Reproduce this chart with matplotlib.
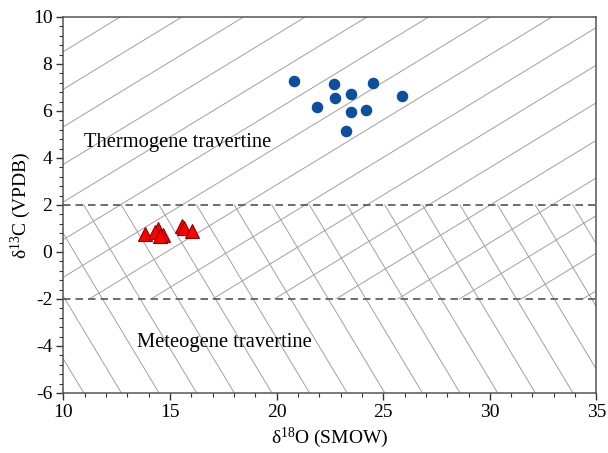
import numpy as np
import matplotlib
matplotlib.use("Agg")
import matplotlib.pyplot as plt
from matplotlib.ticker import MultipleLocator

plt.rcParams['font.family'] = ['Liberation Serif', 'DejaVu Serif']
plt.rcParams['mathtext.fontset'] = 'custom'
plt.rcParams['mathtext.rm'] = 'Liberation Serif'
plt.rcParams['axes.unicode_minus'] = False

# Thermogene travertine samples (blue circles)
thermo_o18 = [20.79, 22.67, 24.54, 22.75, 23.50, 21.89, 23.50, 24.17, 25.89, 23.23]
thermo_c13 = [7.29, 7.14, 7.20, 6.54, 6.71, 6.18, 5.96, 6.04, 6.64, 5.15]

# Meteogene-range samples (red triangles)
meteo_o18 = [13.83, 14.45, 14.30, 14.69, 14.53, 15.55, 15.63, 16.02]
meteo_c13 = [0.78, 0.98, 0.84, 0.74, 0.66, 1.12, 1.00, 0.90]

# Background line families
pos_slope = 0.553           # thermogene lines (y >= -2)
pos_c_at10 = 8.53           # value at x=10 of reference line
pos_step = 1.6              # vertical spacing
neg_slope = -1.51           # meteogene lines (y <= 2)
neg_x0 = 10.95              # x where reference line meets y=2
neg_step = 1.765            # horizontal spacing

boundaries = [2, -2]

fig = plt.figure(figsize=(6.08, 4.53), dpi=100)
ax = fig.add_axes([0.1044, 0.1325, 0.8766, 0.83])

line_col = '#a0a0a0'
# positive-slope lines
for k in range(-3, 20):
    c = pos_c_at10 - pos_step * k
    y0, y1 = -2.0, 10.0
    x0 = 10 + (y0 - c) / pos_slope
    x1 = 10 + (y1 - c) / pos_slope
    ax.plot([x0, x1], [y0, y1], color=line_col, lw=0.7, zorder=1)
# negative-slope lines
for k in range(-6, 16):
    xs = neg_x0 + neg_step * k
    xe = xs + (-6 - 2) / neg_slope
    ax.plot([xs, xe], [2, -6], color=line_col, lw=0.7, zorder=1)

for b in boundaries:
    ax.axhline(b, color='#555555', lw=1.2, ls=(0, (4.5, 3)), zorder=2)

ax.plot(thermo_o18, thermo_c13, 'o', ms=7.3, color='#0b4f9e', mec='#0b4f9e', zorder=4)
ax.plot(meteo_o18, meteo_c13, '^', ms=10, color='#ff0000', mec='#8b0000', mew=0.8, zorder=4)

ax.text(10.98, 4.64, 'Thermogene travertine', fontsize=14.8, va='center', ha='left', zorder=5)
ax.text(13.45, -3.87, 'Meteogene travertine', fontsize=14.8, va='center', ha='left', zorder=5)

ax.set_xlim(10, 35)
ax.set_ylim(-6, 10)
ax.xaxis.set_major_locator(MultipleLocator(5))
ax.xaxis.set_minor_locator(MultipleLocator(1))
ax.yaxis.set_major_locator(MultipleLocator(2))
ax.yaxis.set_minor_locator(MultipleLocator(0.4))
ax.tick_params(which='both', direction='out', top=False, right=False, colors='#333333', labelcolor='black', labelsize=14)
ax.tick_params(which='major', length=5, width=1.0, pad=3)
ax.tick_params(which='minor', length=3, width=0.8)
for s in ax.spines.values():
    s.set_color('#555555')
    s.set_linewidth(1.1)

ax.set_xlabel(r'$\mathrm{\delta^{18}O}$ (SMOW)', fontsize=14)
ax.set_ylabel(r'$\mathrm{\delta^{13}C}$ (VPDB)', fontsize=14)
ax.xaxis.set_label_coords(0.5, -0.088)
ax.yaxis.set_label_coords(-0.058, 0.5)

fig.savefig('out.png', dpi=100)
